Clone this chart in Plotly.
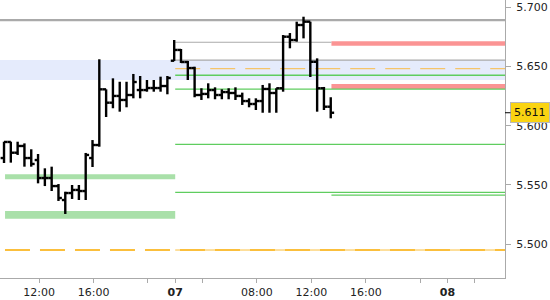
import plotly.graph_objects as go

# ---- data ----
# bar slots (one per bar, consecutive)
bar_slot = list(range(49))
bar_open = [5.5727, 5.5863, 5.5772, 5.5829, 5.5727, 5.5710, 5.5558, 5.5558, 5.5490, 5.5372,
            5.5431, 5.5457, 5.5448, 5.5727, 5.5837, 5.6308, 5.6195, 5.6252, 5.6218, 5.6260,
            5.6302, 5.6302, 5.6319, 5.6319, 5.6336, 5.6550, 5.6641, 5.6539, 5.6488, 5.6260,
            5.6269, 5.6302, 5.6260, 5.6285, 5.6277, 5.6252, 5.6209, 5.6184, 5.6209, 5.6311,
            5.6277, 5.6317, 5.6753, 5.6725, 5.6852, 5.6880, 5.6541, 5.6317, 5.6161]
bar_high = [5.5865, 5.5865, 5.5865, 5.5851, 5.5801, 5.5761, 5.5640, 5.5654, 5.5507, 5.5442,
            5.5499, 5.5499, 5.5770, 5.5879, 5.6562, 5.6308, 5.6401, 5.6372, 5.6372, 5.6438,
            5.6421, 5.6387, 5.6387, 5.6415, 5.6421, 5.6725, 5.6649, 5.6548, 5.6499, 5.6317,
            5.6359, 5.6325, 5.6308, 5.6317, 5.6325, 5.6280, 5.6232, 5.6232, 5.6345, 5.6359,
            5.6317, 5.6767, 5.6784, 5.6880, 5.6922, 5.6880, 5.6570, 5.6328, 5.6241]
bar_low = [5.5685, 5.5688, 5.5753, 5.5654, 5.5654, 5.5513, 5.5490, 5.5448, 5.5364, 5.5254,
           5.5381, 5.5372, 5.5372, 5.5651, 5.5823, 5.6074, 5.6148, 5.6119, 5.6156, 5.6232,
           5.6232, 5.6288, 5.6288, 5.6288, 5.6266, 5.6548, 5.6531, 5.6387, 5.6241, 5.6218,
           5.6232, 5.6224, 5.6224, 5.6224, 5.6218, 5.6176, 5.6156, 5.6133, 5.6110, 5.6110,
           5.6110, 5.6288, 5.6655, 5.6711, 5.6739, 5.6412, 5.6119, 5.6133, 5.6063]
bar_close = [5.5863, 5.5772, 5.5829, 5.5727, 5.5677, 5.5558, 5.5558, 5.5490, 5.5389, 5.5431,
             5.5457, 5.5448, 5.5753, 5.5837, 5.6308, 5.6195, 5.6252, 5.6218, 5.6260, 5.6370,
             5.6302, 5.6319, 5.6319, 5.6336, 5.6404, 5.6641, 5.6539, 5.6488, 5.6260, 5.6269,
             5.6302, 5.6260, 5.6285, 5.6277, 5.6252, 5.6209, 5.6184, 5.6209, 5.6311, 5.6277,
             5.6317, 5.6753, 5.6725, 5.6852, 5.6880, 5.6541, 5.6317, 5.6161, 5.6110]
last_price = 5.611

# time axis ticks (slot positions)
tick_slots = [-2.85, 5.15, 13.15, 21.15, 25.15, 29.15, 37.15, 45.15, 53.15, 61.15, 65.15, 69.15]
tick_labels = ["08:00", "12:00", "16:00", "", "<b>07</b>", "", "08:00", "12:00", "16:00", "", "<b>08</b>", ""]
y_ticks = [5.500, 5.550, 5.600, 5.650, 5.700]

# horizontal levels: (value, x_start_slot, x_end_slot)
day_start = 25.15
last_bar = 48.1
far_left = -5
far_right = 90
gray_levels = [(5.6706, day_start, last_bar), (5.6555, day_start, far_right)]
gray_major = 5.6894
green_levels = [(5.6427, day_start, far_right), (5.6309, day_start, far_right),
                (5.5843, day_start, far_right), (5.5436, day_start, far_right),
                (5.5414, last_bar, far_right)]
orange_dash_levels = [5.6483]
orange_low = 5.4949
blue_zone = (5.6387, 5.6556)
pink_zones = [(5.6677, 5.6715), (5.6311, 5.6353)]
green_zones = [(5.5547, 5.5589), (5.5214, 5.5279)]
green_zone_x = (0.15, day_start)

fig = go.Figure()


def rect(x0, x1, lo, hi, color):
    fig.add_trace(go.Scatter(x=[x0, x1, x1, x0, x0], y=[lo, lo, hi, hi, lo],
                             fill="toself", fillcolor=color, line=dict(width=0),
                             mode="lines", hoverinfo="skip"))


def hline(v, x0, x1, color, width, dash="solid"):
    fig.add_trace(go.Scatter(x=[x0, x1], y=[v, v], mode="lines",
                             line=dict(color=color, width=width, dash=dash), hoverinfo="skip"))


rect(far_left, far_right, blue_zone[0], blue_zone[1], "#e5ebfc")
for lo, hi in green_zones:
    rect(green_zone_x[0], green_zone_x[1], lo, hi, "#a9e0a9")
for lo, hi in pink_zones:
    rect(last_bar, far_right, lo, hi, "#fb9494")

hline(gray_major, far_left, far_right, "#aaaaaa", 2.2)
for v, x0, x1 in gray_levels:
    hline(v, x0, x1, "#aaaaaa", 1.2)
for v in orange_dash_levels:
    hline(v, day_start, far_right, "#f5c46a", 1.4, "25px,10px")
for v, x0, x1 in green_levels:
    hline(v, x0, x1, "#5fcd5f", 1.3)
hline(orange_low, far_left, far_right, "#fbbf3c", 2, "25px,10px")
hline(orange_low, day_start, far_right, "#fbbf3c", 1)

# OHLC bars built as line segments (vertical high-low, open tick left, close tick right)
half = 0.5
ox, oy = [], []
for s, o, h, l, c in zip(bar_slot, bar_open, bar_high, bar_low, bar_close):
    ox += [s, s, None, s - half, s, None, s, s + half, None]
    oy += [l, h, None, o, o, None, c, c, None]
fig.add_trace(go.Scatter(x=ox, y=oy, mode="lines", line=dict(color="black", width=2.4),
                         connectgaps=False, hoverinfo="skip"))

fig.add_annotation(x=1, xref="paper", y=last_price, yref="y", text="5.611",
                   showarrow=True, arrowhead=0, arrowwidth=1, arrowcolor="black",
                   ax=25, ay=0, xanchor="center",
                   bgcolor="#fad412", bordercolor="#b8b8b8", borderwidth=1, borderpad=3,
                   font=dict(family="DejaVu Sans", size=11, color="#111"))

fig.update_layout(
    width=550, height=300,
    margin=dict(l=0, r=45, t=0, b=22),
    paper_bgcolor="white", plot_bgcolor="white",
    showlegend=False,
    font=dict(family="DejaVu Sans", size=11, color="#222"),
    xaxis=dict(range=[-0.59, 73.6], tickvals=tick_slots, ticktext=tick_labels,
               showgrid=False, zeroline=False, showline=True, linecolor="#aaaaaa", linewidth=1,
               ticks="outside", ticklen=4, tickcolor="#aaaaaa",
               tickfont=dict(family="DejaVu Sans", size=11, color="#222")),
    yaxis=dict(range=[5.47125, 5.70634], side="right", tickvals=y_ticks, tickformat=".3f",
               showgrid=False, zeroline=False, showline=True, linecolor="#aaaaaa", linewidth=1,
               ticks="outside", ticklen=5, tickcolor="#aaaaaa", ticklabelstandoff=3,
               tickfont=dict(family="DejaVu Sans", size=11, color="#222")),
)

fig.write_html("out.html")
